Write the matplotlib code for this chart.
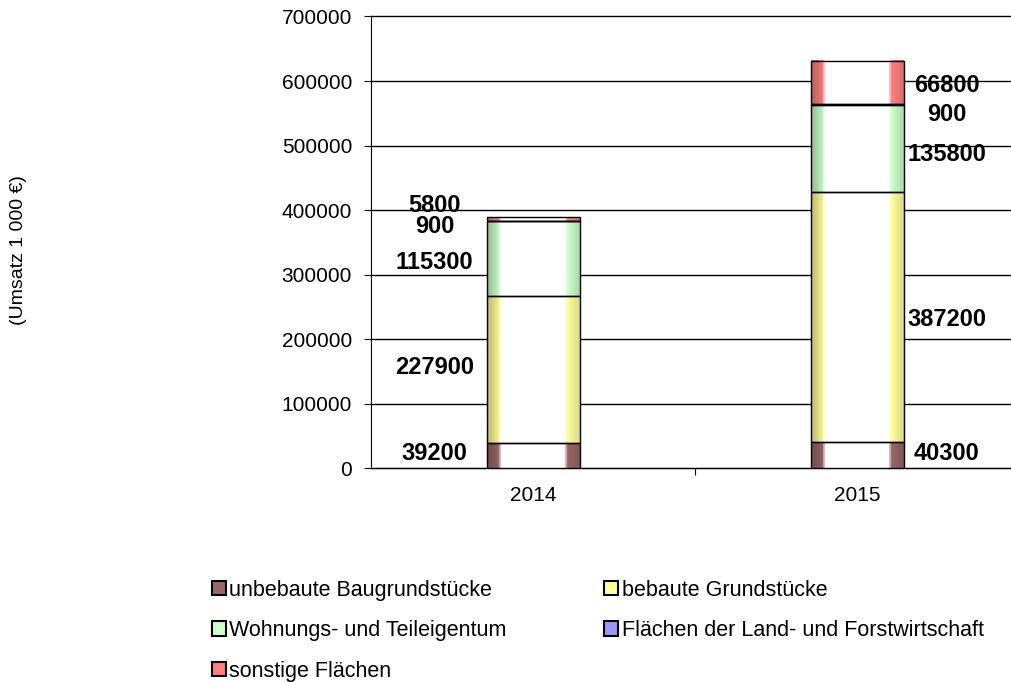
import numpy as np
import matplotlib.pyplot as plt
from matplotlib.colors import to_rgb
from matplotlib.patches import Patch

plt.rcParams['font.family'] = ['Liberation Sans', 'DejaVu Sans']

# ---- Daten ----
jahre = ["2014", "2015"]
kategorien = ["unbebaute Baugrundstücke", "bebaute Grundstücke",
              "Wohnungs- und Teileigentum", "Flächen der Land- und Forstwirtschaft",
              "sonstige Flächen"]
unbebaut = [39200, 40300]
bebaut = [227900, 387200]
wohnung = [115300, 135800]
landforst = [900, 900]
sonstige = [5800, 66800]

farben = ["#996666", "#FFFF99", "#CCFFCC", "#9999FF", "#FF8080"]

# Label-Verschiebungen in Pixel (dx je Jahr, dy je Segment, positiv = nach unten)
dx_jahr = [-99, 89]
dy_label = [[-2, -1.5, 4, 5, -14], [-2, 2, 6, 10.5, 2.5]]


def zylinder_farbverlauf(farbe, n=200):
    c = np.array(to_rgb(farbe))
    dunkel = c * 0.72
    weiss = np.ones(3)
    t = np.linspace(0, 1, n)
    img = np.zeros((1, n, 3))
    for i, x in enumerate(t):
        if x < 0.15:
            f = x / 0.15
            col = dunkel * (1 - f) + c * f
            if x > 0.13:
                col = col * 0.5 + weiss * 0.5
        elif x < 0.84:
            col = weiss
        elif x < 0.86:
            col = c * 0.5 + weiss * 0.5
        else:
            f = (x - 0.86) / 0.14
            col = c * (1 - f) + (c * 0.85) * f
        img[0, i] = col
    return img


fig = plt.figure(figsize=(10.12, 6.82), dpi=100)
ax = fig.add_axes([371.5 / 1012, 1 - 468.3 / 682, 648 / 1012, 451.8 / 682])

serien = [unbebaut, bebaut, wohnung, landforst, sonstige]
breite = 0.284
x = np.arange(len(jahre))

for i in range(len(jahre)):
    unten = 0
    for j, werte in enumerate(serien):
        v = werte[i]
        grad = zylinder_farbverlauf(farben[j])
        ax.imshow(grad, extent=[x[i] - breite / 2, x[i] + breite / 2, unten, unten + v],
                  aspect='auto', zorder=3, interpolation='bilinear')
        ax.bar(x[i], v, bottom=unten, width=breite, facecolor='none',
               edgecolor='black', linewidth=1, zorder=4)
        ax.annotate(f"{v}", xy=(x[i], unten + v / 2), xytext=(dx_jahr[i], -dy_label[i][j]),
                    textcoords='offset pixels', ha='center', va='center',
                    fontsize=17, fontweight='bold', zorder=5)
        unten += v

ax.set_xlim(-0.5, 1.5)
ax.set_ylim(0, 700000)
ax.set_yticks(np.arange(0, 700001, 100000))
ax.yaxis.grid(True, color='black', linewidth=1)
for linie in ax.get_ygridlines():
    linie.set_clip_on(False)
ax.set_axisbelow(True)
ax.set_xticks([0.5, 1.5], minor=False)
ax.set_xticklabels([])
ax.set_xticks(x, minor=True)
ax.set_xticklabels(jahre, minor=True)
ax.tick_params(axis='x', which='minor', length=0, pad=13, labelsize=15)
ax.tick_params(axis='x', which='major', length=5, direction='out')
ax.tick_params(axis='y', length=5, direction='out', labelsize=15, pad=9)
for s in ['top', 'right']:
    ax.spines[s].set_visible(False)

fig.text(19 / 1012, 1 - 250 / 682, "(Umsatz 1 000 €)", rotation=90,
         ha='center', va='center', fontsize=14)

handles = [Patch(facecolor=f, edgecolor='black', linewidth=1.5) for f in farben]
reihenfolge = [0, 2, 4, 1, 3]
fig.legend([handles[k] for k in reihenfolge], [kategorien[k] for k in reihenfolge],
           ncol=2, loc='upper left', bbox_to_anchor=(201 / 1012, 1 - 569 / 682),
           frameon=False, fontsize=15.5, handlelength=0.65, handleheight=0.65,
           handletextpad=0.15, labelspacing=0.9, columnspacing=4.55, borderpad=0)

fig.savefig("out.png", dpi=100)
